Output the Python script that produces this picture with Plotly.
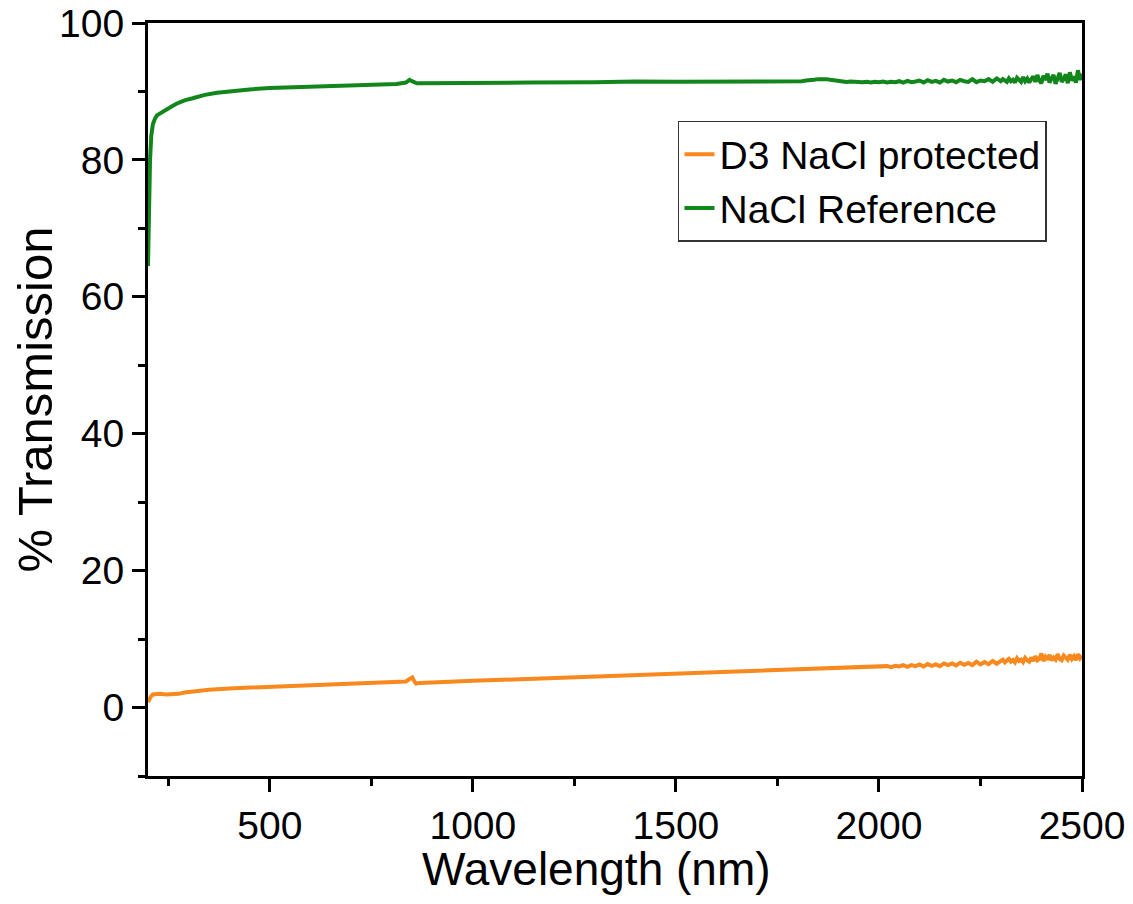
import plotly.graph_objects as go

# ---------------- data ----------------
wl_ref = [200, 202, 205, 208, 212, 217, 222, 230, 240, 255, 270, 290, 310, 340, 370, 400,
          450, 500, 566, 650, 750, 812, 835, 844, 850, 856, 862, 870, 900, 1000, 1139, 1300,
          1400, 1500, 1600, 1700, 1800,
          1810, 1820, 1830, 1840, 1850, 1860, 1870, 1880, 1890, 1900, 1910, 1920, 1930, 1940,
          1950, 1960, 1970, 1980, 1990, 2000, 2010, 2020, 2030, 2040, 2050, 2060, 2070, 2080,
          2090, 2100, 2110, 2120, 2130, 2140, 2150, 2160, 2170, 2180, 2190, 2200, 2210, 2220,
          2230, 2240, 2250, 2260, 2270, 2280, 2290,
          2300, 2305, 2310, 2315, 2320, 2325, 2330, 2335, 2340, 2345, 2350, 2355, 2360, 2365,
          2370, 2375, 2380, 2385, 2390, 2395, 2400, 2405, 2410, 2415, 2420, 2425, 2430, 2435,
          2440, 2445, 2450, 2455, 2460, 2465, 2470, 2475, 2480, 2485, 2490, 2495, 2500]
t_ref = [64.5, 72.0, 80.0, 83.5, 85.2, 86.0, 86.5, 86.8, 87.2, 87.7, 88.2, 88.7, 89.0, 89.5,
         89.8, 90.0, 90.3, 90.5, 90.6, 90.8, 91.0, 91.1, 91.3, 91.7, 91.5, 91.3, 91.2, 91.2,
         91.2, 91.3, 91.3, 91.35, 91.45, 91.4, 91.4, 91.45, 91.5,
         91.5, 91.6, 91.6, 91.7, 91.8, 91.85, 91.8, 91.7, 91.6, 91.5, 91.5, 91.4, 91.45, 91.4,
         91.4, 91.35, 91.4, 91.3, 91.4, 91.35, 91.45, 91.3, 91.4, 91.35, 91.5, 91.3, 91.55, 91.35,
         91.45, 91.6, 91.3, 91.65, 91.4, 91.55, 91.3, 91.7, 91.45, 91.6, 91.35, 91.7, 91.5, 91.4,
         91.8, 91.35, 91.6, 91.5, 91.8, 91.4, 91.9,
         91.5, 91.8, 91.6, 91.4, 91.9, 91.5, 91.7, 91.3, 92.0, 91.6, 91.4, 92.1, 91.5, 91.9,
         91.3, 91.8, 92.2, 91.4, 92.4, 91.6, 91.2, 92.3, 91.7, 92.6, 91.3, 91.9, 92.4, 91.1,
         92.0, 92.7, 91.4, 91.8, 92.5, 91.2, 92.8, 91.6, 92.2, 91.3, 93.1, 91.7, 92.6]

wl_d3 = [200, 203, 207, 212, 220, 230, 245, 260, 275, 290, 310, 350, 400, 483, 550, 650, 750,
         812, 835, 845, 851, 856, 860, 870, 900, 1000, 1100, 1200, 1300, 1400, 1500, 1600,
         1700, 1800, 1850, 1900, 1950, 2000,
         2010, 2020, 2030, 2040, 2050, 2060, 2070, 2080, 2090, 2100, 2110, 2120, 2130, 2140,
         2150, 2160, 2170, 2180, 2190, 2200, 2210, 2220, 2230, 2240, 2250, 2260, 2270, 2280,
         2290,
         2300, 2305, 2310, 2315, 2320, 2325, 2330, 2335, 2340, 2345, 2350, 2355, 2360, 2365,
         2370, 2375, 2380, 2385, 2390, 2395, 2400, 2405, 2410, 2415, 2420, 2425, 2430, 2435,
         2440, 2445, 2450, 2455, 2460, 2465, 2470, 2475, 2480, 2485, 2490, 2495, 2500]
t_d3 = [0.8, 1.2, 1.6, 1.9, 2.0, 2.0, 1.9, 1.9, 2.0, 2.2, 2.35, 2.6, 2.8, 3.0, 3.15, 3.35, 3.5,
        3.65, 3.8, 4.2, 4.4, 3.8, 3.5, 3.6, 3.7, 3.9, 4.1, 4.3, 4.5, 4.75, 4.95, 5.15,
        5.4, 5.6, 5.7, 5.8, 5.85, 5.95,
        6.0, 6.05, 5.9, 6.1, 6.0, 6.2, 5.95, 6.2, 6.05, 6.3, 6.0, 6.35, 6.1, 6.3,
        6.05, 6.45, 6.2, 6.45, 6.15, 6.55, 6.25, 6.5, 6.2, 6.7, 6.3, 6.65, 6.35, 6.8,
        6.4,
        6.8, 7.0, 6.6, 6.9, 7.1, 6.7, 6.95, 6.6, 7.2, 6.8, 7.0, 6.65, 7.25, 6.9,
        6.7, 7.3, 6.8, 7.5, 6.9, 7.1, 7.9, 6.8, 7.4, 7.0, 7.7, 6.9, 7.3, 7.0,
        7.8, 7.1, 6.9, 7.6, 7.2, 7.0, 7.7, 7.1, 7.5, 6.95, 7.8, 7.2, 7.6]

series_names = ["D3 NaCl protected", "NaCl Reference"]
series_colors = ["#F8891E", "#12861A"]
x_title = "Wavelength (nm)"
y_title = "% Transmission"

FONT = "Liberation Sans, Arial, sans-serif"

fig = go.Figure()
fig.add_trace(go.Scatter(x=wl_d3, y=t_d3, mode="lines", name=series_names[0],
                         line=dict(color=series_colors[0], width=4)))
fig.add_trace(go.Scatter(x=wl_ref, y=t_ref, mode="lines", name=series_names[1],
                         line=dict(color=series_colors[1], width=4)))

axis_common = dict(
    showline=True, linecolor="black", linewidth=3, mirror=True,
    ticks="outside", ticklen=13, tickwidth=3, tickcolor="black",
    showgrid=False, zeroline=False, automargin=False,
    ticklabeloverflow="allow",
    tickfont=dict(family=FONT, size=39, color="black"),
)

fig.update_xaxes(
    range=[200, 2500], tick0=0, dtick=500,
    minor=dict(ticks="outside", ticklen=7, tickwidth=3, tickcolor="black", dtick=250, tick0=0),
    **axis_common,
)
fig.update_yaxes(
    range=[-10, 100], tick0=0, dtick=20,
    minor=dict(ticks="outside", ticklen=7, tickwidth=3, tickcolor="black", dtick=10, tick0=0),
    title=dict(text=y_title, font=dict(family=FONT, size=49, color="black"), standoff=18),
    **axis_common,
)

# the page body adds an 8 px offset, so the figure is sized to fit inside it
fig.update_layout(
    width=1125, height=896,
    margin=dict(l=140, r=51, t=15, b=128),
    paper_bgcolor="white", plot_bgcolor="white",
    font=dict(family=FONT, color="black"),
    showlegend=True,
    legend=dict(
        x=0.9625, y=0.87, xanchor="right", yanchor="top",
        bgcolor="white", bordercolor="#333333", borderwidth=1.5,
        font=dict(family=FONT, size=39, color="black"),
        tracegroupgap=0,
    ),
    annotations=[
        dict(text=x_title, x=0.4807, y=-0.1240, xref="paper", yref="paper",
             xanchor="center", yanchor="middle", showarrow=False,
             font=dict(family=FONT, size=46, color="black")),
    ],
)

fig.write_html("out.html")
